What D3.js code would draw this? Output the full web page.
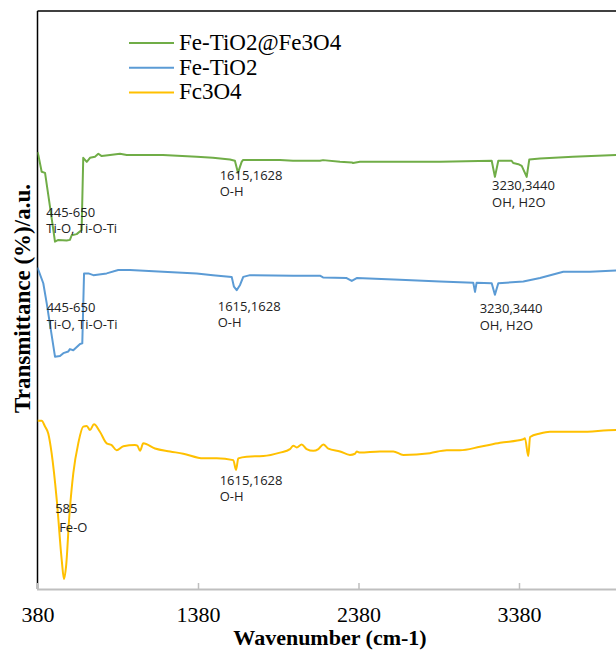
<!DOCTYPE html>
<html>
<head>
<meta charset="utf-8">
<script src="https://cdn.jsdelivr.net/npm/d3@7"></script>
<style>
  body { margin: 0; background: #fff; }
  svg { display: block; }
</style>
</head>
<body>
<div id="chart"></div>
<script>
// wavenumber (cm-1) / transmittance (a.u., offset stack)
const compositeWave = [380, 385, 406, 427, 458, 489, 510, 562, 582, 593, 624, 655, 665, 687, 707, 738, 759, 780, 832, 894, 936, 1162, 1372, 1473, 1579, 1610, 1629, 1652, 1660, 1891, 1972, 2140, 2159, 2265, 2338, 2346, 2389, 2638, 2888, 3210, 3230, 3251, 3334, 3344, 3376, 3397, 3428, 3444, 3511, 3716, 3984, 4000];
const compositeT = [75.6, 75.1, 72.2, 72.0, 66.1, 60.1, 60.4, 60.3, 60.4, 61.2, 61.4, 62.1, 74.6, 73.9, 74.6, 74.8, 75.3, 74.9, 75.1, 75.3, 75.1, 75.1, 74.8, 74.6, 74.3, 74.1, 72.0, 73.9, 74.2, 74.2, 74.1, 74.1, 74.2, 73.9, 73.8, 73.7, 73.9, 73.9, 73.9, 74.1, 71.3, 74.1, 74.1, 73.7, 73.5, 73.2, 71.3, 74.3, 74.5, 74.8, 75.1, 75.1];

const tio2Wave = [380, 385, 416, 437, 489, 520, 541, 572, 582, 603, 645, 659, 670, 697, 728, 811, 883, 956, 1162, 1372, 1473, 1590, 1604, 1621, 1642, 1662, 1704, 1972, 2140, 2159, 2306, 2338, 2369, 2638, 2888, 3095, 3106, 3116, 3210, 3230, 3251, 3407, 3511, 3656, 3822, 3984, 4000];
const tio2T = [55.6, 55.2, 52.9, 49.5, 40.2, 40.3, 40.8, 41.1, 41.5, 41.3, 42.4, 42.5, 54.6, 54.6, 54.3, 54.6, 55.2, 55.2, 54.9, 54.6, 54.3, 54.0, 52.3, 51.7, 52.6, 54.0, 54.3, 54.2, 54.2, 53.9, 53.8, 53.3, 53.8, 53.5, 53.2, 53.0, 51.4, 53.0, 52.9, 50.9, 52.9, 53.2, 53.8, 54.9, 54.9, 55.1, 55.1];

const fe3o4Wave = [380, 406, 427, 447, 468, 500, 531, 545, 558, 578, 603, 634, 665, 687, 707, 732, 769, 811, 842, 873, 915, 987, 1002, 1019, 1039, 1112, 1206, 1288, 1413, 1497, 1600, 1617, 1631, 1683, 1787, 1891, 1953, 1974, 1995, 2026, 2057, 2098, 2130, 2161, 2192, 2265, 2327, 2358, 2369, 2389, 2514, 2597, 2659, 2825, 2930, 3012, 3137, 3262, 3407, 3417, 3438, 3449, 3511, 3573, 3760, 3984, 4000];
const fe3o4T = [29.1, 29.1, 28.1, 26.9, 23.5, 15.4, 5.0, 1.7, 3.9, 12.5, 20.0, 25.2, 28.1, 28.2, 27.5, 28.5, 27.2, 25.2, 24.9, 24.0, 24.7, 24.9, 24.8, 23.9, 25.2, 24.3, 23.8, 23.4, 22.6, 22.6, 22.3, 20.6, 22.6, 22.9, 23.0, 23.6, 24.2, 24.8, 24.5, 25.0, 24.2, 23.9, 24.2, 25.0, 24.3, 23.8, 23.2, 23.4, 23.8, 23.6, 23.8, 23.8, 23.2, 23.5, 24.0, 24.0, 24.6, 25.3, 25.9, 26.1, 23.0, 26.3, 26.9, 27.2, 27.2, 27.5, 27.5];

const seriesNames = ['Fe-TiO2@Fe3O4', 'Fe-TiO2', 'Fc3O4'];
const seriesColors = ['#70ad47', '#5b9bd5', '#ffc000'];
const xTicks = [380, 1380, 2380, 3380];

// peak labels: [wavenumber, transmittance of first line, line1, line2]
const peakLabels = [
  [435, 64.4, '445-650', 'Ti-O, Ti-O-Ti'],
  [1515, 70.8, '1615,1628', 'O-H'],
  [3212, 69.0, '3230,3440', 'OH, H2O'],
  [437, 47.9, '445-650', 'Ti-O, Ti-O-Ti'],
  [1503, 48.1, '1615,1628', 'O-H'],
  [3135, 47.7, '3230,3440', 'OH, H2O'],
  [490, 13.2, '585', 'Fe-O'],
  [1515, 18.0, '1615,1628', 'O-H']
];

const width = 616, height = 650;
const margin = { left: 37.5, top: 11, bottom: 589 };

const svg = d3.select('#chart').append('svg')
  .attr('width', width)
  .attr('height', height);

const x = d3.scaleLinear().domain([380, 4000]).range([margin.left, 618.5]);
const y = d3.scaleLinear().domain([0, 100]).range([margin.bottom, margin.top]);

// frame (top + left black, bottom axis grey)
svg.append('line')
  .attr('x1', margin.left).attr('x2', width)
  .attr('y1', margin.top).attr('y2', margin.top)
  .attr('stroke', '#000').attr('stroke-width', 1.5);
svg.append('line')
  .attr('x1', margin.left).attr('x2', margin.left)
  .attr('y1', margin.top).attr('y2', margin.bottom)
  .attr('stroke', '#000').attr('stroke-width', 1.5);

const xAxis = svg.append('g')
  .attr('transform', `translate(0,${margin.bottom})`)
  .call(d3.axisBottom(x).tickValues(xTicks).tickSize(-6).tickPadding(0).tickFormat(d3.format('d')));
xAxis.select('.domain').attr('stroke', '#bfbfbf').attr('stroke-width', 2);
xAxis.selectAll('.tick line').attr('stroke', '#bfbfbf').attr('stroke-width', 1.5);
xAxis.selectAll('.tick text')
  .attr('y', 33)
  .attr('dy', 0)
  .style('font-family', '"Liberation Serif", "Times New Roman", serif')
  .style('font-size', '22px')
  .attr('fill', '#000');

// spectra
const line = d3.line()
  .x(d => x(d[0]))
  .y(d => y(d[1]));

const seriesData = [
  d3.zip(compositeWave, compositeT),
  d3.zip(tio2Wave, tio2T),
  d3.zip(fe3o4Wave, fe3o4T)
];

svg.append('defs').append('clipPath').attr('id', 'plot')
  .append('rect')
  .attr('x', margin.left).attr('y', margin.top)
  .attr('width', width - margin.left).attr('height', margin.bottom - margin.top);

svg.append('g').attr('clip-path', 'url(#plot)')
  .selectAll('path')
  .data(seriesData)
  .enter().append('path')
  .attr('d', (d, i) => (i === 2 ? line.curve(d3.curveMonotoneX) : line.curve(d3.curveLinear))(d))
  .attr('fill', 'none')
  .attr('stroke', (d, i) => seriesColors[i])
  .attr('stroke-width', 2)
  .attr('stroke-linejoin', 'round');

// peak annotations
const labels = svg.append('g')
  .style('font-family', '"Open Sans", "Liberation Sans", sans-serif')
  .style('font-size', '13px')
  .attr('fill', '#222');

peakLabels.forEach(p => {
  const t = labels.append('text')
    .attr('x', x(p[0]))
    .attr('y', y(p[1]));
  t.append('tspan').attr('x', x(p[0])).text(p[2]);
  t.append('tspan').attr('x', x(p[0]) + (p[2] === '585' ? 4 : 0)).attr('dy', p[2] === '585' ? 19 : 16.5).text(p[3]);
});

// legend
const legend = svg.append('g')
  .style('font-family', '"Liberation Serif", "Times New Roman", serif')
  .style('font-size', '23px');

seriesNames.forEach((name, i) => {
  const ly = 50 + i * 24.7;
  legend.append('line')
    .attr('x1', 129).attr('x2', 174)
    .attr('y1', ly - 7).attr('y2', ly - 7)
    .attr('stroke', seriesColors[i])
    .attr('stroke-width', 2);
  legend.append('text')
    .attr('x', 179)
    .attr('y', ly)
    .attr('fill', '#000')
    .text(name);
});

// axis titles
svg.append('text')
  .attr('x', 330)
  .attr('y', 645)
  .attr('text-anchor', 'middle')
  .style('font-family', '"Liberation Serif", "Times New Roman", serif')
  .style('font-size', '22px')
  .style('font-weight', 'bold')
  .text('Wavenumber (cm-1)');

svg.append('text')
  .attr('transform', 'translate(29.5,298.5) rotate(-90)')
  .attr('text-anchor', 'middle')
  .style('font-family', '"Liberation Serif", "Times New Roman", serif')
  .style('font-size', '23px')
  .style('font-weight', 'bold')
  .text('Transmittance (%)/a.u.');
</script>
</body>
</html>
